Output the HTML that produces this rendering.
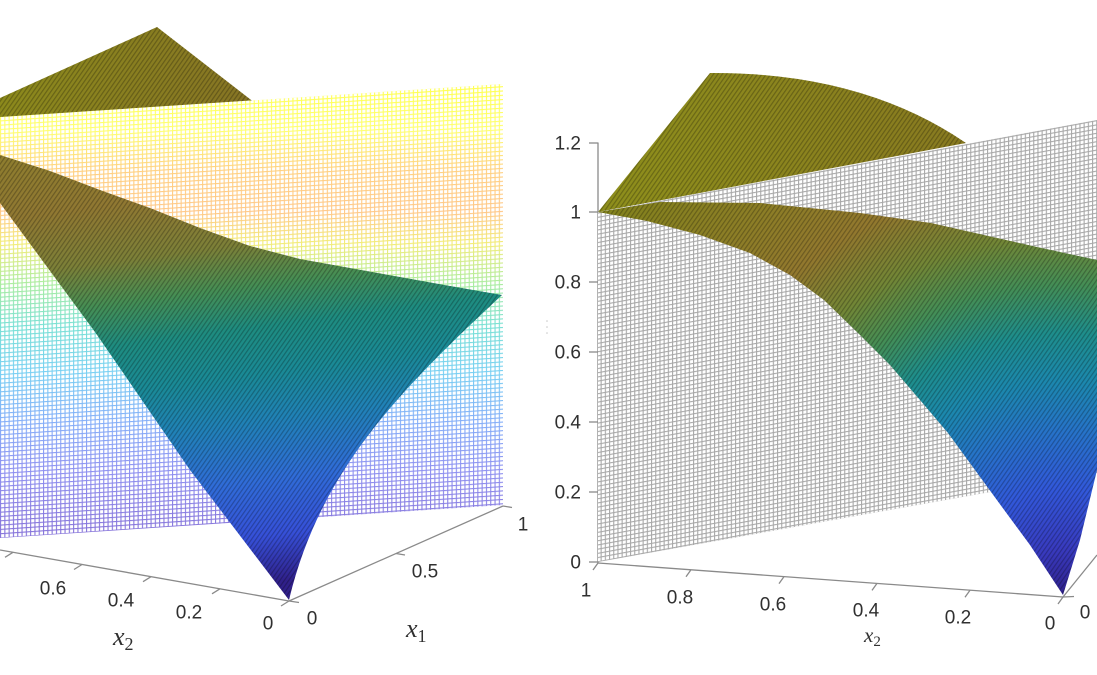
<!DOCTYPE html>
<html><head><meta charset="utf-8"><style>
html,body{margin:0;padding:0;background:#fff;}
svg{display:block;}
.t{font-family:"Liberation Sans",sans-serif;font-size:19px;fill:#303030;}
.lab{font-family:"Liberation Serif",serif;font-style:italic;fill:#303030;}
</style></head><body>
<svg width="1097" height="675" viewBox="0 0 1097 675" xmlns="http://www.w3.org/2000/svg">
<defs>
 <linearGradient id="lmesh" gradientUnits="userSpaceOnUse" x1="0" y1="84" x2="0" y2="540">
  <stop offset="0.01" stop-color="#ffff50"/>
  <stop offset="0.10" stop-color="#ffff70"/>
  <stop offset="0.19" stop-color="#ffd080"/>
  <stop offset="0.28" stop-color="#ffc888"/>
  <stop offset="0.35" stop-color="#f2ec78"/>
  <stop offset="0.44" stop-color="#a8eca0"/>
  <stop offset="0.53" stop-color="#78e0d4"/>
  <stop offset="0.63" stop-color="#78d0f2"/>
  <stop offset="0.74" stop-color="#84aef8"/>
  <stop offset="0.85" stop-color="#8e90f0"/>
  <stop offset="0.98" stop-color="#8674da"/>
 </linearGradient>
 <linearGradient id="lfront" gradientUnits="userSpaceOnUse" x1="0" y1="150" x2="60" y2="610">
  <stop offset="0" stop-color="#8e7e2e"/>
  <stop offset="0.15" stop-color="#907832"/>
  <stop offset="0.27" stop-color="#7c8038"/>
  <stop offset="0.36" stop-color="#468e54"/>
  <stop offset="0.45" stop-color="#1e8c80"/>
  <stop offset="0.55" stop-color="#1a8a96"/>
  <stop offset="0.65" stop-color="#2082b6"/>
  <stop offset="0.78" stop-color="#306cd8"/>
  <stop offset="0.90" stop-color="#3650d8"/>
  <stop offset="1" stop-color="#30208a"/>
 </linearGradient>
 <radialGradient id="rfront" gradientUnits="userSpaceOnUse" cx="1063" cy="597" r="600" fx="1063" fy="597">
  <stop offset="0" stop-color="#30208a"/>
  <stop offset="0.08" stop-color="#383abe"/>
  <stop offset="0.18" stop-color="#3258da"/>
  <stop offset="0.28" stop-color="#2674c8"/>
  <stop offset="0.36" stop-color="#1c88ae"/>
  <stop offset="0.44" stop-color="#1e8e8c"/>
  <stop offset="0.52" stop-color="#448e56"/>
  <stop offset="0.60" stop-color="#728636"/>
  <stop offset="0.70" stop-color="#92782e"/>
  <stop offset="0.82" stop-color="#8c7e26"/>
  <stop offset="1" stop-color="#82821c"/>
 </radialGradient>
 <linearGradient id="lback" gradientUnits="userSpaceOnUse" x1="0" y1="60" x2="250" y2="100">
  <stop offset="0" stop-color="#8c8a1c"/>
  <stop offset="1" stop-color="#867424"/>
 </linearGradient>
 <linearGradient id="rback" gradientUnits="userSpaceOnUse" x1="620" y1="150" x2="960" y2="130">
  <stop offset="0" stop-color="#8e8e1c"/>
  <stop offset="1" stop-color="#887a20"/>
 </linearGradient>
 <pattern id="str" width="3.6" height="3.6" patternUnits="userSpaceOnUse" patternTransform="rotate(-55)">
  <rect width="3.6" height="1.2" fill="#000" fill-opacity="0.25"/>
 </pattern>
 <pattern id="gridL" width="4.3" height="4.3" patternUnits="userSpaceOnUse" patternTransform="skewY(-3.9)">
  <rect x="1.1" y="1.1" width="3.2" height="3.2" fill="#fff"/>
 </pattern>
 <pattern id="gridR" width="4.2" height="4.2" patternUnits="userSpaceOnUse" patternTransform="skewY(-10.5)">
  <rect x="1.1" y="1.1" width="3.1" height="3.1" fill="#fff"/>
 </pattern>
</defs>

<rect width="1097" height="675" fill="#fff"/>

<!-- ============ LEFT PANEL ============ -->
<path d="M157,27 L255,103 L255,135 L0,135 L0,98 Z" fill="url(#lback)"/>
<path d="M157,27 L255,103 L255,135 L0,135 L0,98 Z" fill="url(#str)"/>
<path d="M0,117 L503,84 L503,505 L0,538 Z" fill="url(#lmesh)"/>
<path d="M0,117 L503,84 L503,505 L0,538 Z" fill="url(#gridL)"/>
<path d="M0,155 L50,171 L100,190 L150,208 L200,228 L250,246 L300,259 L350,268 L400,277 L450,286 L502,295 C400,390 320,470 289,600 L190,470 L95,332 L0,203 Z" fill="url(#lfront)"/>
<path d="M0,155 L50,171 L100,190 L150,208 L200,228 L250,246 L300,259 L350,268 L400,277 L450,286 L502,295 C400,390 320,470 289,600 L190,470 L95,332 L0,203 Z" fill="url(#str)"/>

<g stroke="#8a8a8a" stroke-width="1.3" fill="none">
 <line x1="0" y1="550" x2="289" y2="601"/>
 <line x1="289" y1="601" x2="503" y2="506"/>
 <line x1="13" y1="552.3" x2="5" y2="557.3"/>
 <line x1="82" y1="564.5" x2="74" y2="569.5"/>
 <line x1="151" y1="576.7" x2="143" y2="581.7"/>
 <line x1="220" y1="588.8" x2="212" y2="593.8"/>
 <line x1="289" y1="601" x2="281" y2="606"/>
 <line x1="289" y1="601" x2="299" y2="602.5"/>
 <line x1="396" y1="553.5" x2="405" y2="555"/>
 <line x1="503" y1="506" x2="512" y2="507.5"/>
</g>
<text class="t" x="-15" y="582.5" text-anchor="middle">0.8</text>
<text class="t" x="53" y="594.5" text-anchor="middle">0.6</text>
<text class="t" x="121" y="606.5" text-anchor="middle">0.4</text>
<text class="t" x="189" y="618.5" text-anchor="middle">0.2</text>
<text class="t" x="268" y="629.5" text-anchor="middle">0</text>
<text class="t" x="312" y="624.5" text-anchor="middle">0</text>
<text class="t" x="425" y="577.5" text-anchor="middle">0.5</text>
<text class="t" x="523" y="530.5" text-anchor="middle">1</text>
<text class="lab" x="113" y="645" font-size="26">x<tspan font-size="18" font-style="normal" dy="5">2</tspan></text>
<text class="lab" x="406" y="637" font-size="26">x<tspan font-size="18" font-style="normal" dy="5">1</tspan></text>

<!-- ============ RIGHT PANEL ============ -->
<g stroke="#8a8a8a" stroke-width="1.3" fill="none">
 <line x1="598" y1="142.5" x2="598" y2="563"/>
 <line x1="589" y1="143" x2="598" y2="143"/>
 <line x1="589" y1="212" x2="598" y2="212"/>
 <line x1="589" y1="282" x2="598" y2="282"/>
 <line x1="589" y1="352" x2="598" y2="352"/>
 <line x1="589" y1="422" x2="598" y2="422"/>
 <line x1="589" y1="492" x2="598" y2="492"/>
 <line x1="589" y1="562" x2="598" y2="562"/>
</g>
<path d="M598,212 L710,73 Q862,72 966,143 Z" fill="url(#rback)"/>
<path d="M598,212 L710,73 Q862,72 966,143 Z" fill="url(#str)"/>
<path d="M598,212 L1097,120 L1097,473 L598,562 Z" fill="#a8a8a8"/>
<path d="M598,212 L1097,120 L1097,473 L598,562 Z" fill="url(#gridR)"/>
<path d="M598,212 L660,202 L760,203 L860,213 L931,223 L1037,247 L1097,260 L1097,470 L1080,540 L1063,595 L1030,545 L1002,507 L975,470 L948,433 L920,400 L890,365 L860,335 L824,300 L790,275 L750,253 L700,235 L647,221 Z" fill="url(#rfront)"/>
<path d="M598,212 L660,202 L760,203 L860,213 L931,223 L1037,247 L1097,260 L1097,470 L1080,540 L1063,595 L1030,545 L1002,507 L975,470 L948,433 L920,400 L890,365 L860,335 L824,300 L790,275 L750,253 L700,235 L647,221 Z" fill="url(#str)"/>

<g stroke="#8a8a8a" stroke-width="1.3" fill="none">
 <line x1="598" y1="563" x2="1063" y2="597"/>
 <line x1="1063" y1="597" x2="1074" y2="596.5"/>
 <line x1="1063" y1="597" x2="1097" y2="555"/>
 <line x1="598" y1="563" x2="593" y2="570"/>
 <line x1="691" y1="569.8" x2="686" y2="576.8"/>
 <line x1="784" y1="576.6" x2="779" y2="583.6"/>
 <line x1="877" y1="583.4" x2="872" y2="590.4"/>
 <line x1="970" y1="590.2" x2="965" y2="597.2"/>
 <line x1="1063" y1="597" x2="1058" y2="604"/>
</g>
<g class="t" text-anchor="end">
 <text x="581" y="149.5">1.2</text>
 <text x="581" y="218.5">1</text>
 <text x="581" y="288.5">0.8</text>
 <text x="581" y="358.5">0.6</text>
 <text x="581" y="428.5">0.4</text>
 <text x="581" y="498.5">0.2</text>
 <text x="581" y="568.5">0</text>
</g>
<text class="t" x="586" y="596.5" text-anchor="middle">1</text>
<text class="t" x="680" y="603.5" text-anchor="middle">0.8</text>
<text class="t" x="773" y="610.5" text-anchor="middle">0.6</text>
<text class="t" x="866" y="616.5" text-anchor="middle">0.4</text>
<text class="t" x="958" y="623.5" text-anchor="middle">0.2</text>
<text class="t" x="1050" y="629.5" text-anchor="middle">0</text>
<text class="t" x="1085" y="618.5" text-anchor="middle">0</text>
<text class="lab" x="864" y="642" font-size="21">x<tspan font-size="15" font-style="normal" dy="4">2</tspan></text>
<g fill="#c8c8c8">
 <circle cx="547" cy="321" r="0.8"/>
 <circle cx="547" cy="327" r="0.8"/>
 <circle cx="547" cy="333" r="0.8"/>
</g>
</svg>
</body></html>
